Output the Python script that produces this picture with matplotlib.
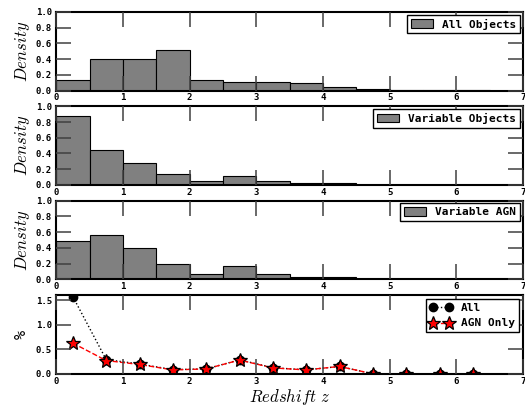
import numpy as np
import matplotlib
matplotlib.use('Agg')
import matplotlib.pyplot as plt

# bin edges (width 0.5) and densities
bin_left = [0.0, 0.5, 1.0, 1.5, 2.0, 2.5, 3.0, 3.5, 4.0, 4.5, 5.0, 5.5, 6.0, 6.5]
all_objects = [0.14, 0.40, 0.395, 0.51, 0.137, 0.11, 0.103, 0.09, 0.047, 0.02, 0.013, 0.004, 0.002, 0.0]
var_objects = [0.873, 0.447, 0.283, 0.139, 0.046, 0.114, 0.046, 0.02, 0.02, 0.0, 0.0, 0.0, 0.0, 0.0]
var_agn = [0.49, 0.56, 0.40, 0.20, 0.07, 0.17, 0.07, 0.03, 0.03, 0.0, 0.0, 0.0, 0.0, 0.0]

# percentage of variable sources per bin
z_mid = [0.25, 0.75, 1.25, 1.75, 2.25, 2.75, 3.25, 3.75, 4.25, 4.75, 5.25, 5.75, 6.25]
pct_all = [1.57, 0.29, 0.20, 0.085, 0.10, 0.285, 0.125, 0.08, 0.15, 0.0, 0.0, 0.0, 0.0]
pct_agn = [0.625, 0.27, 0.19, 0.08, 0.10, 0.28, 0.12, 0.08, 0.15, 0.0, 0.0, 0.0, 0.0]

hist_labels = ['All Objects', 'Variable Objects', 'Variable AGN']

plt.rcParams['font.family'] = 'DejaVu Sans Mono'
plt.rcParams['font.weight'] = 'bold'
plt.rcParams['mathtext.fontset'] = 'cm'
plt.rcParams['axes.linewidth'] = 1.5

fig, axes = plt.subplots(4, 1, figsize=(5.25, 4.09), dpi=100)
fig.subplots_adjust(left=0.107, right=0.996, top=0.971, bottom=0.086, hspace=0.2)


def style_axes(ax):
    ax.set_axisbelow(False)
    ax.tick_params(which='major', direction='in', length=11, width=1.1,
                   top=True, right=True, labelsize=6.5, color='0.25')
    ax.tick_params(axis='x', pad=2)
    ax.tick_params(axis='y', pad=3)
    ax.set_xlim(0, 7)
    ax.set_xticks(range(0, 8))


def style_legend(leg):
    leg.get_frame().set_edgecolor('black')
    leg.get_frame().set_linewidth(1.0)


width = 0.5
for ax, vals, lab in zip(axes[:3], [all_objects, var_objects, var_agn], hist_labels):
    ax.bar(bin_left, vals, width=width, align='edge', color='0.5',
           edgecolor='black', linewidth=0.8, label=lab, zorder=1)
    style_axes(ax)
    ax.set_ylim(0, 1.0)
    ax.set_yticks([0.0, 0.2, 0.4, 0.6, 0.8, 1.0])
    ax.set_yticklabels(['0.0', '0.2', '0.4', '0.6', '0.8', '1.0'])
    ax.set_ylabel('$Density$', fontsize=12, labelpad=3)
    leg = ax.legend(loc='upper right', fontsize=8, fancybox=False,
                    borderaxespad=0.25, handlelength=2.0, handleheight=0.8,
                    borderpad=0.35, framealpha=1)
    style_legend(leg)

ax = axes[3]
ax.plot(z_mid, pct_all, 'o:', color='black', markersize=6, linewidth=1.0, label='All')
ax.plot(z_mid, pct_agn, '*--', color='red', markersize=10, linewidth=1.0,
        markeredgecolor='black', markeredgewidth=0.9, label='AGN Only')
style_axes(ax)
ax.set_ylim(0, 1.6)
ax.set_yticks([0.0, 0.5, 1.0, 1.5])
ax.set_yticklabels(['0.0', '0.5', '1.0', '1.5'])
ax.set_ylabel('%', fontsize=11, labelpad=5)
ax.set_xlabel('$Redshift\\ z$', fontsize=12, labelpad=1)
leg = ax.legend(loc='upper right', fontsize=8, fancybox=False, numpoints=2,
                borderaxespad=0.35, handlelength=2.0, borderpad=0.35, framealpha=1)
style_legend(leg)

plt.savefig('out.png', dpi=100)
